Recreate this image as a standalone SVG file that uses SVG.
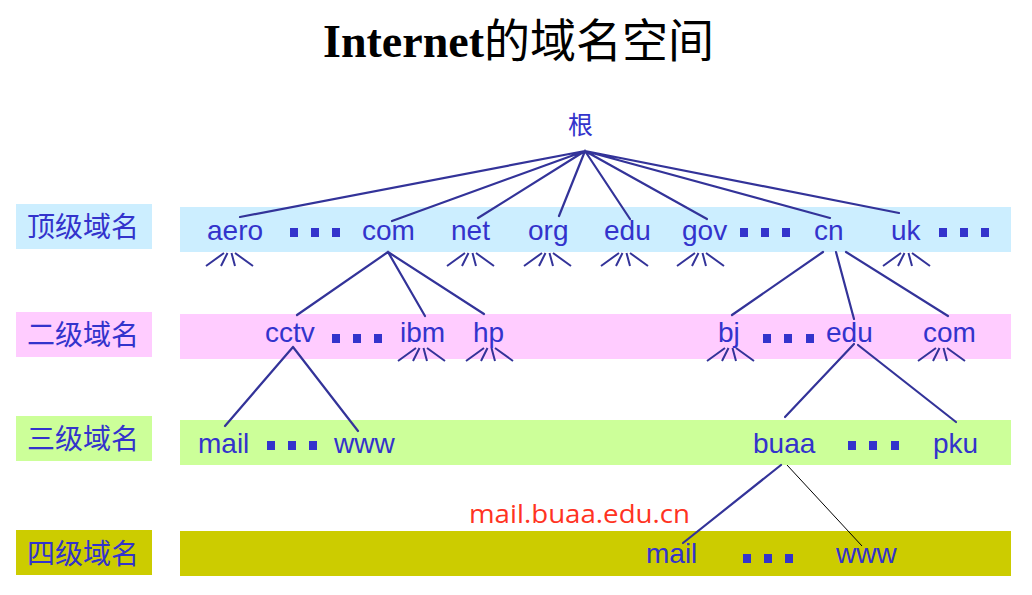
<svg xmlns="http://www.w3.org/2000/svg" width="1032" height="595" viewBox="0 0 1032 595">
<style>
.t{font-family:"Liberation Sans",Arial,sans-serif;font-size:28px;fill:#3333cc}
.lab{font-family:"Noto Sans CJK SC",sans-serif;font-size:28px;fill:#3333cc}
.ln{stroke:#333399;stroke-width:2.2;fill:none;stroke-linecap:round}
.fan{stroke:#333399;stroke-width:2;fill:none;stroke-linecap:butt}
.thin{stroke:#000;stroke-width:1;fill:none}
.dot{fill:#3333cc}
</style>
<defs>
<path id="fan" d="M224 253L206 266M227.5 253L221 266M231.5 253L235 266M235 253L253 266"/>
</defs>
<rect width="1032" height="595" fill="#fff"/>
<text x="323" y="57" font-size="46" fill="#000"><tspan font-family="Liberation Serif,serif" font-weight="bold">Internet</tspan><tspan font-family="Noto Sans CJK SC,sans-serif">的域名空间</tspan></text>

<g id="bands">
<rect x="180" y="207" width="831" height="45" fill="#cceeff"/>
<rect x="180" y="314" width="831" height="45" fill="#ffccff"/>
<rect x="180" y="420" width="831" height="45" fill="#ccff99"/>
<rect x="180" y="531" width="831" height="45" fill="#cccc00"/>
</g>

<g id="level-labels">
<g id="lab1"><rect x="16" y="204" width="136" height="45" fill="#cceeff"/><text class="lab" x="27" y="237">顶级域名</text></g>
<g id="lab2"><rect x="16" y="312" width="136" height="45" fill="#ffccff"/><text class="lab" x="27" y="345">二级域名</text></g>
<g id="lab3"><rect x="16" y="416" width="136" height="45" fill="#ccff99"/><text class="lab" x="27" y="449">三级域名</text></g>
<g id="lab4"><rect x="16" y="530" width="136" height="45" fill="#cccc00"/><text class="lab" x="27" y="564">四级域名</text></g>
</g>

<g id="connectors">
<path class="ln" d="M585 151L240 217M585 151L392 221M585 151L478 218M585 151L559 216M585 151L630 219M585 151L707 219M585 151L830 218M585 151L899 213"/>
<path class="ln" d="M388 252L297 315M388 252L425 316M388 252L484 314"/>
<path class="ln" d="M823 252L732 315M836 252L854 319M846 252L948 316"/>
<path class="ln" d="M293 347L225 426M293 347L358 431"/>
<path class="ln" d="M854 344L785 417M858 345L956 422"/>
<path class="ln" d="M781 465L683 543"/>
<path class="thin" d="M787 465L862 546"/>
<g id="fans" class="fan">
<use href="#fan"/>
<use href="#fan" transform="translate(241,0)"/>
<use href="#fan" transform="translate(318,0)"/>
<use href="#fan" transform="translate(395,0)"/>
<use href="#fan" transform="translate(471,0)"/>
<use href="#fan" transform="translate(677,0)"/>
<use href="#fan" transform="translate(192,95)"/>
<use href="#fan" transform="translate(260,95)"/>
<use href="#fan" transform="translate(501,95)"/>
<use href="#fan" transform="translate(712,95)"/>
</g>
</g>

<g id="root"><text x="568" y="134" font-family="Noto Sans CJK SC,sans-serif" font-size="25" fill="#3333cc">根</text></g>

<g id="tld">
<g id="n-aero"><text class="t" x="207" y="240">aero</text></g>
<g id="d1" class="dot"><rect x="290" y="228" width="8" height="9"/><rect x="311" y="228" width="8" height="9"/><rect x="332" y="228" width="8" height="9"/></g>
<g id="n-com"><text class="t" x="362" y="240">com</text></g>
<g id="n-net"><text class="t" x="451" y="240">net</text></g>
<g id="n-org"><text class="t" x="528" y="240">org</text></g>
<g id="n-edu"><text class="t" x="604" y="240">edu</text></g>
<g id="n-gov"><text class="t" x="682" y="240">gov</text></g>
<g id="d2" class="dot"><rect x="740" y="228" width="8" height="9"/><rect x="761" y="228" width="8" height="9"/><rect x="782" y="228" width="8" height="9"/></g>
<g id="n-cn"><text class="t" x="814" y="240">cn</text></g>
<g id="n-uk"><text class="t" x="891" y="240">uk</text></g>
<g id="d3" class="dot"><rect x="939" y="228" width="8" height="9"/><rect x="960" y="228" width="8" height="9"/><rect x="981" y="228" width="8" height="9"/></g>
</g>

<g id="sld">
<g id="n-cctv"><text class="t" x="265" y="342">cctv</text></g>
<g id="d4" class="dot"><rect x="332" y="334" width="8" height="9"/><rect x="353" y="334" width="8" height="9"/><rect x="374" y="334" width="8" height="9"/></g>
<g id="n-ibm"><text class="t" x="400" y="342">ibm</text></g>
<g id="n-hp"><text class="t" x="473" y="342">hp</text></g>
<g id="n-bj"><text class="t" x="718" y="342">bj</text></g>
<g id="d5" class="dot"><rect x="763" y="334" width="8" height="9"/><rect x="784" y="334" width="8" height="9"/><rect x="806" y="334" width="8" height="9"/></g>
<g id="n-edu2"><text class="t" x="826" y="342">edu</text></g>
<g id="n-com2"><text class="t" x="923" y="342">com</text></g>
</g>

<g id="third">
<g id="n-mail3"><text class="t" x="198" y="453">mail</text></g>
<g id="d6" class="dot"><rect x="267" y="441" width="8" height="9"/><rect x="288" y="441" width="8" height="9"/><rect x="309" y="441" width="8" height="9"/></g>
<g id="n-www3"><text class="t" x="334" y="453">www</text></g>
<g id="n-buaa"><text class="t" x="753" y="453">buaa</text></g>
<g id="d7" class="dot"><rect x="848" y="441" width="8" height="9"/><rect x="869" y="441" width="8" height="9"/><rect x="891" y="441" width="8" height="9"/></g>
<g id="n-pku"><text class="t" x="933" y="453">pku</text></g>
</g>

<g id="fourth">
<g id="n-mail4"><text class="t" x="646" y="563">mail</text></g>
<g id="d8" class="dot"><rect x="743" y="554" width="8" height="9"/><rect x="764" y="554" width="8" height="9"/><rect x="785" y="554" width="8" height="9"/></g>
<g id="n-www4"><text class="t" x="836" y="563">www</text></g>
</g>

<g id="example"><text x="469" y="523" font-family="Open Sans,sans-serif" font-size="25" fill="#ff3322" textLength="221" lengthAdjust="spacingAndGlyphs">mail.buaa.edu.cn</text></g>
</svg>
